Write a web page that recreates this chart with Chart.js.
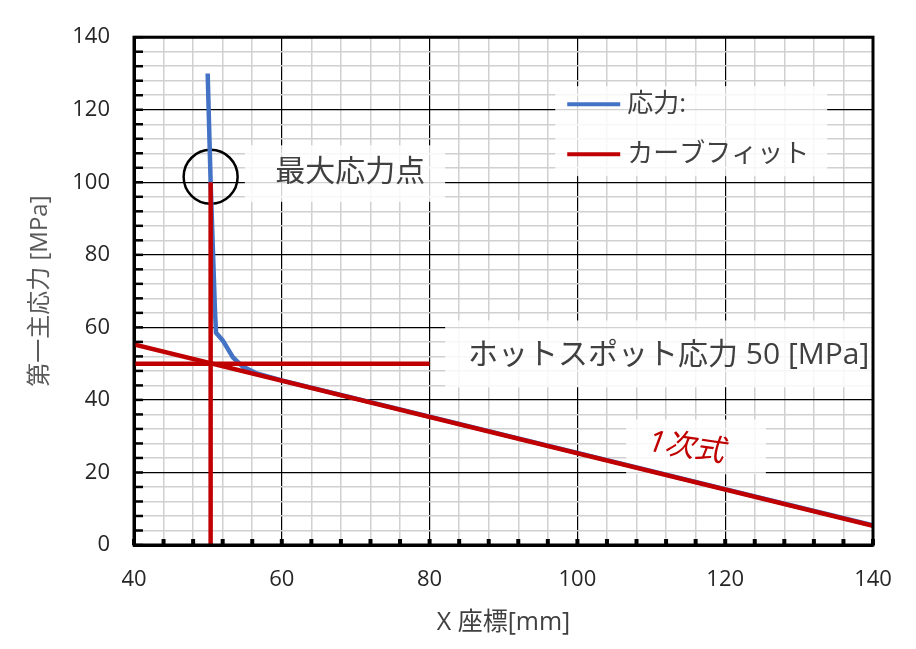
<!DOCTYPE html>
<html>
<head>
<meta charset="utf-8">
<script src="https://cdn.jsdelivr.net/npm/chart.js@4.4.0/dist/chart.umd.min.js"></script>
<style>
    html, body { margin: 0; background: #fff; }
    #wrap { width: 916px; height: 649px; }
</style>
</head>
<body>
<div id="wrap"><canvas id="chart"></canvas></div>
<script>
/* 第一主応力の分布とホットスポット応力（1次式で外挿） */

const FONT = '"Open Sans", "Noto Sans CJK JP", sans-serif';
const COLOR_STRESS = '#4472c4';
const COLOR_FIT = '#c00000';
const COLOR_TEXT = '#404040';

// 応力分布
const stressX = [49.97, 50.37, 50.7, 50.95, 51.1, 51.4, 52.0, 53.4, 54.7, 56.5, 60, 80, 100, 120, 140];
const stressY = [130, 100, 80, 65, 58.5, 57.8, 56.4, 51.7, 49.2, 47.4, 45.4, 35.4, 25.4, 15.4, 5.4];

// 1次式フィット
const fitX = [40, 140];
const fitY = [55.3, 5.3];

// ホットスポット応力の読み取り線
const hotspotX = [40, 80];
const hotspotY = [50, 50];
const peakLineX = [50.37, 50.37];
const peakLineY = [0, 100];

// 最大応力点の丸印
const peakMarkX = [50.37];
const peakMarkY = [101.5];

// 注記（左端・中心のデータ座標）
const notes = [
    { text: '最大応力点', x: 59.1, y: 102.6, box: [55.0, 110.2, 82.1, 94.6] },
    { text: 'ホットスポット応力 50 [MPa]', x: 85.2, y: 52.3, box: [82.1, 61.9, 140, 43.5] },
    { text: '1次式', x: 109.6, y: 28.3, box: [106.6, 34.6, 125.5, 19.5], color: COLOR_FIT, italic: true, rotate: 8 },
];

const toPoints = (xs, ys) => xs.map((x, i) => ({ x, y: ys[i] }));

const frame = {
    id: 'frame',
    beforeDatasetsDraw(c) {
        const { ctx, scales: { x, y } } = c;
        ctx.save();
        notes.forEach((n) => {
            const [x1, y1, x2, y2] = n.box;
            ctx.fillStyle = 'rgba(255,255,255,0.82)';
            ctx.fillRect(x.getPixelForValue(x1), y.getPixelForValue(y1),
                x.getPixelForValue(x2) - x.getPixelForValue(x1), y.getPixelForValue(y2) - y.getPixelForValue(y1));
        });
        // 凡例の背景
        const lx = x.getPixelForValue(97), ly = y.getPixelForValue(126.5);
        ctx.fillRect(lx, ly, 272, 90);
        notes.forEach((n) => {
            const px = x.getPixelForValue(n.x), py = y.getPixelForValue(n.y);
            ctx.save();
            ctx.translate(px, py);
            if (n.rotate) ctx.rotate(n.rotate * Math.PI / 180);
            ctx.font = `${n.italic ? 'italic ' : ''}30px ${FONT}`;
            ctx.fillStyle = n.color || COLOR_TEXT;
            ctx.textBaseline = 'middle';
            ctx.fillText(n.text, 0, 0);
            ctx.restore();
        });
        // 凡例
        ctx.font = `26px ${FONT}`;
        ctx.textBaseline = 'middle';
        c.data.datasets
            .filter((d) => d.legendRank !== undefined)
            .sort((a, b) => a.legendRank - b.legendRank)
            .forEach((d, i) => {
                const yy = ly + 18 + i * 50;
                ctx.strokeStyle = d.borderColor;
                ctx.lineWidth = 4;
                ctx.beginPath();
                ctx.moveTo(lx + 12, yy);
                ctx.lineTo(lx + 65, yy);
                ctx.stroke();
                ctx.fillStyle = COLOR_TEXT;
                ctx.fillText(d.label, lx + 72, yy);
            });
        ctx.restore();
    },
    afterDraw(c) {
        const { ctx, chartArea: a, scales: { x, y } } = c;
        ctx.save();
        ctx.strokeStyle = '#000';
        ctx.lineWidth = 3;
        ctx.strokeRect(a.left, a.top, a.right - a.left, a.bottom - a.top);
        ctx.lineWidth = 4;
        x.ticks.forEach((t) => {
            const px = x.getPixelForValue(t.value);
            ctx.beginPath();
            ctx.moveTo(px, a.bottom);
            ctx.lineTo(px, a.bottom - 6);
            ctx.stroke();
        });
        ctx.lineWidth = 2.5;
        y.ticks.forEach((t) => {
            const py = y.getPixelForValue(t.value);
            ctx.beginPath();
            ctx.moveTo(a.left, py);
            ctx.lineTo(a.left + 9, py);
            ctx.stroke();
        });
        ctx.restore();
    },
};

const gridColor = (ctx) => (ctx.tick && ctx.tick.value % 20 === 0 ? '#000' : '#d0d0d0');
const gridWidth = (ctx) => (ctx.tick && ctx.tick.value % 20 === 0 ? 1.2 : 1.5);
const major = (v) => (v % 20 === 0 ? v : '');

new Chart(document.getElementById('chart'), {
    type: 'scatter',
    data: {
        datasets: [
            {
                label: 'カーブフィット',
                legendRank: 1,
                data: toPoints(fitX, fitY),
                showLine: true,
                borderColor: COLOR_FIT,
                borderWidth: 4.5,
                pointRadius: 0,
            },
            {
                data: toPoints(hotspotX, hotspotY),
                showLine: true,
                borderColor: COLOR_FIT,
                borderWidth: 4.5,
                pointRadius: 0,
            },
            {
                data: toPoints(peakLineX, peakLineY),
                showLine: true,
                borderColor: COLOR_FIT,
                borderWidth: 4.5,
                pointRadius: 0,
            },
            {
                label: '応力:',
                legendRank: 0,
                data: toPoints(stressX, stressY),
                showLine: true,
                borderColor: COLOR_STRESS,
                borderWidth: 4.5,
                pointRadius: 0,
            },
            {
                data: toPoints(peakMarkX, peakMarkY),
                pointRadius: 27,
                pointBackgroundColor: 'rgba(0,0,0,0)',
                pointBorderColor: '#000',
                pointBorderWidth: 2.5,
            },
        ],
    },
    options: {
        animation: false,
        responsive: true,
        maintainAspectRatio: false,
        layout: { padding: { top: 36, right: 43, left: 0, bottom: 0 } },
        plugins: { legend: { display: false }, tooltip: { enabled: false } },
        scales: {
            x: {
                min: 40,
                max: 140,
                afterFit: (s) => { s.height = 104; },
                border: { color: '#000', width: 3 },
                grid: { color: gridColor, lineWidth: gridWidth, drawTicks: false },
                ticks: { stepSize: 4, autoSkip: false, maxRotation: 0, padding: 22, color: '#262626', font: { family: FONT, size: 22 }, callback: major },
                title: { display: true, text: 'X 座標[mm]', color: COLOR_TEXT, padding: { top: 11, bottom: 11 }, font: { family: FONT, size: 25 } },
            },
            y: {
                min: 0,
                max: 140,
                afterFit: (s) => { s.width = 134; },
                border: { color: '#000', width: 3 },
                grid: { color: gridColor, lineWidth: gridWidth, drawTicks: false },
                ticks: { stepSize: 4, autoSkip: false, padding: 24, color: '#262626', font: { family: FONT, size: 22 }, callback: major },
                title: { display: true, text: '第一主応力 [MPa]', color: '#595959', padding: { top: 26, bottom: 26 }, font: { family: FONT, size: 24 } },
            },
        },
    },
    plugins: [frame],
});
</script>
</body>
</html>
